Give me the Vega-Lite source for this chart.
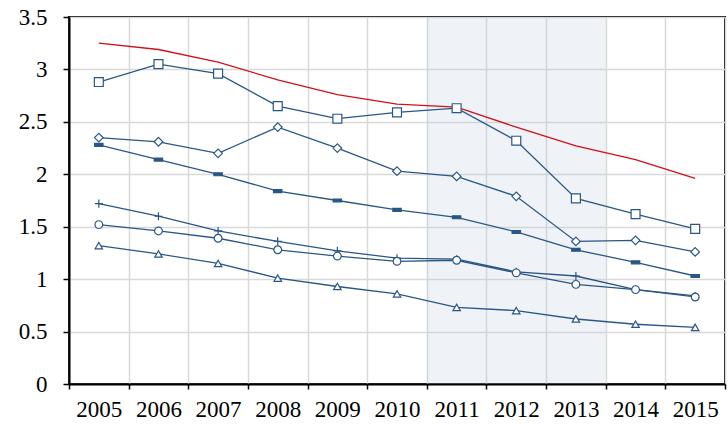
{
  "$schema": "https://vega.github.io/schema/vega-lite/v6.json",
  "width": 656,
  "height": 367,
  "autosize": "none",
  "padding": {"left": 69, "top": 17, "right": 3, "bottom": 41},
  "background": "white",
  "config": {
    "view": {"stroke": "black", "strokeWidth": 2},
    "axis": {
      "labelColor": "black",
      "domainColor": "black",
      "domainWidth": 2,
      "tickColor": "black",
      "tickWidth": 1.5,
      "gridColor": "#d9d9d9",
      "gridWidth": 1.5
    }
  },
  "data": {
    "values": [
      {"year": 2005, "series": "A", "value": 3.25},
      {"year": 2006, "series": "A", "value": 3.19},
      {"year": 2007, "series": "A", "value": 3.07},
      {"year": 2008, "series": "A", "value": 2.90},
      {"year": 2009, "series": "A", "value": 2.76},
      {"year": 2010, "series": "A", "value": 2.67},
      {"year": 2011, "series": "A", "value": 2.64},
      {"year": 2012, "series": "A", "value": 2.45},
      {"year": 2013, "series": "A", "value": 2.27},
      {"year": 2014, "series": "A", "value": 2.14},
      {"year": 2015, "series": "A", "value": 1.96},
      {"year": 2005, "series": "B", "value": 2.88},
      {"year": 2006, "series": "B", "value": 3.05},
      {"year": 2007, "series": "B", "value": 2.96},
      {"year": 2008, "series": "B", "value": 2.65},
      {"year": 2009, "series": "B", "value": 2.53},
      {"year": 2010, "series": "B", "value": 2.59},
      {"year": 2011, "series": "B", "value": 2.63},
      {"year": 2012, "series": "B", "value": 2.32},
      {"year": 2013, "series": "B", "value": 1.77},
      {"year": 2014, "series": "B", "value": 1.62},
      {"year": 2015, "series": "B", "value": 1.48},
      {"year": 2005, "series": "C", "value": 2.35},
      {"year": 2006, "series": "C", "value": 2.31},
      {"year": 2007, "series": "C", "value": 2.20},
      {"year": 2008, "series": "C", "value": 2.45},
      {"year": 2009, "series": "C", "value": 2.25},
      {"year": 2010, "series": "C", "value": 2.03},
      {"year": 2011, "series": "C", "value": 1.98},
      {"year": 2012, "series": "C", "value": 1.79},
      {"year": 2013, "series": "C", "value": 1.36},
      {"year": 2014, "series": "C", "value": 1.37},
      {"year": 2015, "series": "C", "value": 1.26},
      {"year": 2005, "series": "D", "value": 2.28},
      {"year": 2006, "series": "D", "value": 2.14},
      {"year": 2007, "series": "D", "value": 2.00},
      {"year": 2008, "series": "D", "value": 1.84},
      {"year": 2009, "series": "D", "value": 1.75},
      {"year": 2010, "series": "D", "value": 1.66},
      {"year": 2011, "series": "D", "value": 1.59},
      {"year": 2012, "series": "D", "value": 1.45},
      {"year": 2013, "series": "D", "value": 1.28},
      {"year": 2014, "series": "D", "value": 1.16},
      {"year": 2015, "series": "D", "value": 1.03},
      {"year": 2005, "series": "E", "value": 1.72},
      {"year": 2006, "series": "E", "value": 1.60},
      {"year": 2007, "series": "E", "value": 1.46},
      {"year": 2008, "series": "E", "value": 1.36},
      {"year": 2009, "series": "E", "value": 1.27},
      {"year": 2010, "series": "E", "value": 1.20},
      {"year": 2011, "series": "E", "value": 1.19},
      {"year": 2012, "series": "E", "value": 1.07},
      {"year": 2013, "series": "E", "value": 1.03},
      {"year": 2014, "series": "E", "value": 0.90},
      {"year": 2015, "series": "E", "value": 0.84},
      {"year": 2005, "series": "F", "value": 1.52},
      {"year": 2006, "series": "F", "value": 1.46},
      {"year": 2007, "series": "F", "value": 1.39},
      {"year": 2008, "series": "F", "value": 1.28},
      {"year": 2009, "series": "F", "value": 1.22},
      {"year": 2010, "series": "F", "value": 1.17},
      {"year": 2011, "series": "F", "value": 1.18},
      {"year": 2012, "series": "F", "value": 1.06},
      {"year": 2013, "series": "F", "value": 0.95},
      {"year": 2014, "series": "F", "value": 0.90},
      {"year": 2015, "series": "F", "value": 0.83},
      {"year": 2005, "series": "G", "value": 1.32},
      {"year": 2006, "series": "G", "value": 1.24},
      {"year": 2007, "series": "G", "value": 1.15},
      {"year": 2008, "series": "G", "value": 1.01},
      {"year": 2009, "series": "G", "value": 0.93},
      {"year": 2010, "series": "G", "value": 0.86},
      {"year": 2011, "series": "G", "value": 0.73},
      {"year": 2012, "series": "G", "value": 0.70},
      {"year": 2013, "series": "G", "value": 0.62},
      {"year": 2014, "series": "G", "value": 0.57},
      {"year": 2015, "series": "G", "value": 0.54}
    ]
  },
  "layer": [
    {
      "data": {"values": [{"start": 2010.5, "end": 2013.5}]},
      "mark": {"type": "rect", "fill": "#b8c2d6", "opacity": 0.22},
      "encoding": {
        "x": {
          "field": "start",
          "type": "quantitative",
          "scale": {"domain": [2004.5, 2015.5], "nice": false, "zero": false},
          "axis": {
            "title": null,
            "values": [2004.5, 2005.5, 2006.5, 2007.5, 2008.5, 2009.5, 2010.5, 2011.5, 2012.5, 2013.5, 2014.5, 2015.5],
            "grid": true,
            "tickSize": 5,
            "labelFont": "Liberation Serif",
            "labelFontSize": 23,
            "labelOffset": 29.8,
            "labelFlush": false,
            "labelOverlap": false,
            "labelPadding": 9,
            "labelExpr": "datum.value < 2015 ? format(datum.value + 0.5, 'd') : ''"
          }
        },
        "x2": {"field": "end"}
      }
    },
    {
      "mark": {"type": "line", "strokeWidth": 1.3},
      "encoding": {
        "x": {"field": "year", "type": "quantitative"},
        "y": {
          "field": "value",
          "type": "quantitative",
          "scale": {"domain": [0, 3.5], "nice": false},
          "axis": {
            "title": null,
            "values": [0, 0.5, 1, 1.5, 2, 2.5, 3, 3.5],
            "format": "~g",
            "grid": true,
            "tickSize": 6,
            "labelFont": "Liberation Serif",
            "labelFontSize": 23,
            "labelPadding": 16
          }
        },
        "color": {
          "field": "series",
          "type": "nominal",
          "scale": {"domain": ["A", "B", "C", "D", "E", "F", "G"], "range": ["#d0101a", "#2a5686", "#2a5686", "#2a5686", "#2a5686", "#2a5686", "#2a5686"]},
          "legend": null
        }
      }
    },
    {
      "transform": [{"filter": "datum.series != 'A'"}],
      "mark": {"type": "point", "filled": false, "stroke": "#2a5686", "strokeWidth": 1.2, "opacity": 1},
      "encoding": {
        "x": {"field": "year", "type": "quantitative"},
        "y": {"field": "value", "type": "quantitative"},
        "shape": {
          "field": "series",
          "type": "nominal",
          "scale": {"domain": ["B", "C", "D", "E", "F", "G"], "range": ["square", "diamond", "M-1,-0.35H1V0.35H-1Z", "M-1,0H1M0,-1V1", "circle", "triangle-up"]},
          "legend": null
        },
        "fill": {
          "field": "series",
          "type": "nominal",
          "scale": {"domain": ["B", "C", "D", "E", "F", "G"], "range": ["white", "white", "#2a5686", "white", "white", "white"]},
          "legend": null
        },
        "size": {
          "field": "series",
          "type": "nominal",
          "scale": {"domain": ["B", "C", "D", "E", "F", "G"], "range": [80, 55, 70, 40, 70, 70]},
          "legend": null
        }
      }
    }
  ]
}
